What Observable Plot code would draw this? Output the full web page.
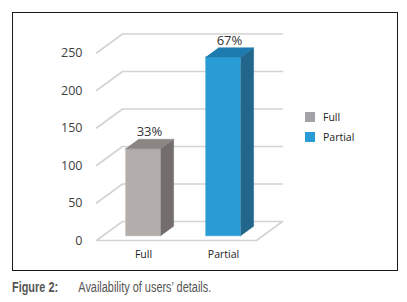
<!DOCTYPE html>
<html><head><meta charset="utf-8">
<script src="https://cdn.jsdelivr.net/npm/d3@7"></script>
<script src="https://cdn.jsdelivr.net/npm/@observablehq/plot@0.6"></script>
<style>
body{margin:0;background:#fff;width:407px;height:302px;overflow:hidden;position:relative;font-family:"Open Sans",sans-serif;}
#chart{position:absolute;left:0;top:0;}
#frame{position:absolute;left:12px;top:12px;width:384px;height:257px;border:1.5px solid #1a1a1a;pointer-events:none;}
#legend{position:absolute;left:305px;top:107px;font-size:10.5px;color:#222;}
#legend .row{display:flex;align-items:center;height:20px;}
#legend .sw{width:10px;height:10px;margin-right:8px;}
#caption{position:absolute;left:12px;top:279px;font-family:"Liberation Sans",Arial,sans-serif;font-size:14px;color:#555;white-space:nowrap;transform:scaleX(0.78);transform-origin:0 0;}
#caption b{display:inline-block;width:85px;font-weight:bold;}
</style></head>
<body>
<div id="chart"></div>
<div id="frame"></div>
<div id="legend"></div>
<div id="caption"><b>Figure 2:</b>Availability of users’ details.</div>
<script>
const categories = ["Full", "Partial"];
const counts = [116, 238];
const percentLabels = ["33%", "67%"];
const yTicks = [0, 50, 100, 150, 200, 250];
const frontColors = ["#b3adab", "#2a9cd5"];
const sideColors = ["#736d6c", "#22668b"];
const topColors = ["#8b8584", "#1d7bb0"];
const legendColors = ["#a3a2a6", "#2a9cd5"];

// depth projection (data units per unit of depth)
const DX = 0.325, DY = 25.33;
const proj = (xi, v, z) => ({x: xi + DX * z, y: v + DY * z});
const hw = 0.22, z0 = 0.25, z1 = 0.75;

// gridlines
const grid = [];
yTicks.forEach(v => {
  const pts = v === 0
    ? [[0,0,0],[0,0,1],[2,0,1],[2,0,0],[0,0,0]]
    : [[0,v,0],[0,v,1],[2,v,1]];
  pts.forEach(p => grid.push({...proj(...p), id: "g" + v}));
});

// bar faces
const fronts = [], sides = [], tops = [];
categories.forEach((c, i) => {
  const cx = i + 0.5, v = counts[i];
  [[cx-hw,0,z0],[cx+hw,0,z0],[cx+hw,v,z0],[cx-hw,v,z0]].forEach(p => fronts.push({...proj(...p), id: c, i}));
  [[cx+hw,0,z0],[cx+hw,0,z1],[cx+hw,v,z1],[cx+hw,v,z0]].forEach(p => sides.push({...proj(...p), id: c, i}));
  [[cx-hw,v,z0],[cx+hw,v,z0],[cx+hw,v,z1],[cx-hw,v,z1]].forEach(p => tops.push({...proj(...p), id: c, i}));
});

const faceMarks = (rows, colors) => categories.map((c, i) =>
  Plot.line(rows.filter(r => r.i === i), {x: "x", y: "y", fill: colors[i], stroke: colors[i], strokeWidth: 0.5}));

const pctData = categories.map((c, i) => ({...proj(i + 0.5, counts[i], 0.5), t: percentLabels[i]}));
const catData = categories.map((c, i) => ({...proj(i + 0.5, 0, 0), t: c}));

const chart = Plot.plot({
  width: 407, height: 275,
  marginLeft: 96, marginRight: 151, marginTop: 52.5, marginBottom: 35,
  x: {type: "linear", domain: [0, 2], axis: null},
  y: {type: "linear", domain: [0, 250], axis: null},
  style: {fontFamily: "'Open Sans', sans-serif", background: "transparent", overflow: "visible"},
  marks: [
    Plot.line(grid, {x: "x", y: "y", z: "id", stroke: "#d3d3d3", strokeWidth: 1.6}),
    ...faceMarks(fronts, frontColors),
    ...faceMarks(sides, sideColors),
    ...faceMarks(tops, topColors),
    Plot.text(yTicks, {x: 0, y: d => d, text: d => String(d), textAnchor: "end", dx: -14, fontSize: 12.5, fill: "#404040"}),
    Plot.text(pctData, {x: "x", y: "y", text: "t", dy: -12, fontSize: 13, fill: "#333"}),
    Plot.text(catData, {x: "x", y: "y", text: "t", dy: 14, dx: 7, fontSize: 10.5, fill: "#222"})
  ]
});
document.getElementById("chart").appendChild(chart);

const legend = document.getElementById("legend");
categories.forEach((c, i) => {
  const row = document.createElement("div");
  row.className = "row";
  row.innerHTML = `<div class="sw" style="background:${legendColors[i]}"></div><span>${c}</span>`;
  legend.appendChild(row);
});
</script>
</body></html>
